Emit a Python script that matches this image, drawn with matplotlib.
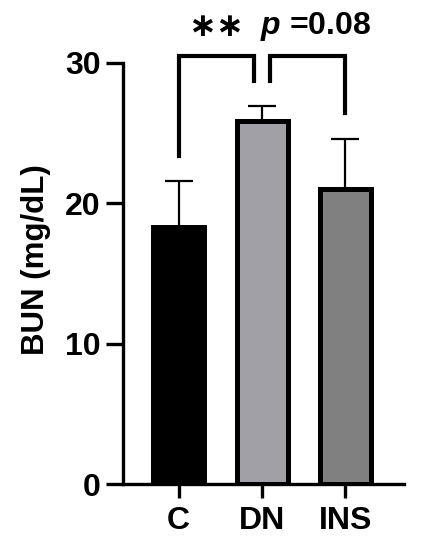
import matplotlib
matplotlib.use("Agg")
import matplotlib.pyplot as plt

# datos del gráfico
grupos = ["C", "DN", "INS"]
medias = [18.3, 25.9, 21.0]
errores = [3.3, 1.0, 3.6]
colores = ["#000000", "#a0a0a6", "#808080"]

plt.rcParams["font.family"] = ["Liberation Sans", "DejaVu Sans"]
plt.rcParams["font.weight"] = "bold"
plt.rcParams["mathtext.fontset"] = "custom"
plt.rcParams["mathtext.bfit"] = "Liberation Sans:italic:bold"

fig = plt.figure(figsize=(4.22, 5.5), dpi=100)
ax = fig.add_axes([0.2915, 0.12, 0.6655, 0.7655])

x = range(len(grupos))
ax.bar(x, medias, width=0.61, color=colores, edgecolor="black", linewidth=3.6, zorder=2)
ax.errorbar(x, medias, yerr=[[0, 0, 0], errores], fmt="none", ecolor="black",
            elinewidth=1.6, capsize=10, capthick=1.6, zorder=1)

ax.set_xlim(-0.668, 2.70)
ax.set_ylim(0, 30)
ax.set_yticks([0, 10, 20, 30])
ax.set_xticks(list(x))
ax.set_xticklabels(grupos)
ax.set_ylabel("BUN (mg/dL)", fontsize=22.5, fontweight="bold")
ax.yaxis.set_label_coords(-0.255, 0.534)

for s in ["top", "right"]:
    ax.spines[s].set_visible(False)
for s in ["left", "bottom"]:
    ax.spines[s].set_linewidth(2.4)
ax.tick_params(axis="y", length=12, width=2.4, labelsize=23, pad=4)
ax.tick_params(axis="x", length=10, width=2.4, labelsize=23, pad=6)

# corchetes de significancia
kw = dict(color="black", linewidth=3, clip_on=False, solid_joinstyle="miter")
ax.plot([0, 0, 0.90, 0.90], [23.4, 30.5, 30.5, 28.7], **kw)
ax.plot([1.095, 1.095, 2.0, 2.0], [28.7, 30.5, 30.5, 26.4], **kw)
ax.text(0.45, 32.6, "∗∗", ha="center", va="center", fontsize=24, fontweight="bold",
        family=["DejaVu Sans"])
ax.text(1.64, 32.6, r"$\boldsymbol{p}$ =0.08", ha="center", va="center", fontsize=23,
        fontweight="bold")

fig.savefig("out.png", dpi=100)
